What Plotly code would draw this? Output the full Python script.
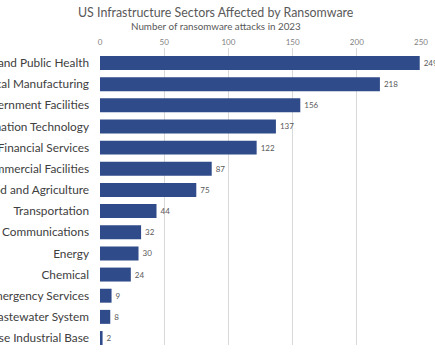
import plotly.graph_objects as go

sectors = [
    "Healthcare and Public Health",
    "Critical Manufacturing",
    "Government Facilities",
    "Information Technology",
    "Financial Services",
    "Commercial Facilities",
    "Food and Agriculture",
    "Transportation",
    "Communications",
    "Energy",
    "Chemical",
    "Emergency Services",
    "Water and Wastewater System",
    "Defense Industrial Base",
]
attacks = [249, 218, 156, 137, 122, 87, 75, 44, 32, 30, 24, 9, 8, 2]
x_ticks = [0, 50, 100, 150, 200, 250]
title_text = "US Infrastructure Sectors Affected by Ransomware"
subtitle_text = "Number of ransomware attacks in 2023"

FONT = "Lato"
W, H = 435, 363
M_L, M_R, M_T, M_B = 100, 13.5, 48, 18
plot_h = H - M_T - M_B
plot_w = W - M_L - M_R


def py(pixel_y):
    """convert a pixel row (from top) into paper y coordinate"""
    return (H - M_B - pixel_y) / plot_h


def px(pixel_x):
    return (pixel_x - M_L) / plot_w


fig = go.Figure(
    go.Bar(
        y=sectors,
        x=attacks,
        orientation="h",
        marker=dict(color="#2f4b8a", line=dict(width=0)),
        text=["\u2009" + str(v) for v in attacks],
        textposition="outside",
        textfont=dict(size=8, color="#595959", family=FONT),
        cliponaxis=False,
        hoverinfo="skip",
    )
)

fig.update_layout(
    width=W,
    height=H,
    margin=dict(l=M_L, r=M_R, t=M_T, b=M_B, autoexpand=False),
    paper_bgcolor="white",
    plot_bgcolor="white",
    bargap=0.34,
    showlegend=False,
    font=dict(family=FONT),
    annotations=[
        dict(text=title_text, x=px(216), xref="paper",
             y=py(12), yref="paper", showarrow=False,
             font=dict(size=12.4, color="#595959", family=FONT),
             xanchor="center", yanchor="middle"),
        dict(text=subtitle_text, x=px(216), xref="paper",
             y=py(26), yref="paper", showarrow=False,
             font=dict(size=9.8, color="#595959", family=FONT),
             xanchor="center", yanchor="middle"),
    ],
)

fig.update_xaxes(
    side="top",
    range=[0, 250],
    tickvals=x_ticks,
    ticktext=[str(t) for t in x_ticks],
    showgrid=True,
    gridcolor="#d9d9d9",
    gridwidth=1,
    zeroline=False,
    showline=False,
    ticks="",
    tickfont=dict(size=8, color="#7f7f7f", family=FONT),
    automargin=False,
)
fig.update_yaxes(
    range=[13.33, -0.71],
    showgrid=False,
    zeroline=False,
    showline=False,
    ticks="",
    ticklabelstandoff=10,
    tickfont=dict(size=11.8, color="#404040", family=FONT),
    automargin=False,
)

fig.write_html(
    "out.html",
    config={"displayModeBar": False, "staticPlot": True},
    post_script="document.body.style.margin='0';document.body.style.overflow='hidden';",
)
